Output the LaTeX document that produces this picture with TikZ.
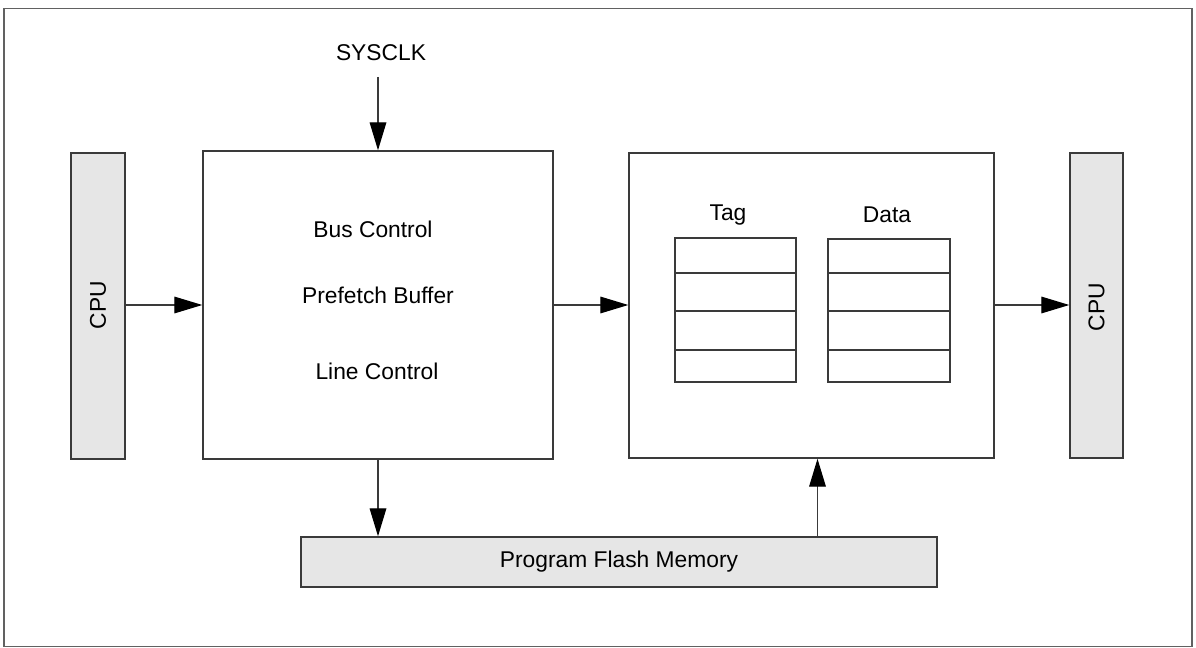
\documentclass[tikz,border=0pt]{standalone}
\usepackage{fontspec}
\setmainfont{Liberation Sans}
\usetikzlibrary{arrows.meta}
\definecolor{edge}{HTML}{3A3A3A}
\definecolor{blockfill}{HTML}{E6E6E6}
\begin{document}
\begin{tikzpicture}[x=0.75pt,y=-0.75pt,
  every node/.style={font=\fontsize{17.1}{20}\selectfont, text=black},
  plainbox/.style={draw=edge, line width=1.1pt, fill=white, inner sep=0pt},
  greybox/.style={draw=edge, line width=1.1pt, fill=blockfill, inner sep=0pt},
  tablebox/.style={draw=edge, line width=1.1pt, inner sep=0pt},
  rowline/.style={draw=edge, line width=1.1pt},
  link/.style={draw=edge, line width=0.9pt, -{Triangle[length=21pt,width=12.5pt,color=black]}},
  lbl/.style={inner sep=0pt, anchor=center}
]
\useasboundingbox (0,0) rectangle (1196,648);
% outer frame
\node[draw=edge!80, line width=1.1pt, minimum width=1188*0.75pt, minimum height=638*0.75pt, inner sep=0pt] (frame) at (598,327.5) {};

% blocks
\node[greybox, minimum width=54*0.75pt, minimum height=306*0.75pt] (cpu1) at (98,306) {};
\node[lbl, rotate=90] (cpu1t) at (98,305) {CPU};
\node[plainbox, minimum width=350*0.75pt, minimum height=308*0.75pt] (main) at (378,305) {};
\node[plainbox, minimum width=365*0.75pt, minimum height=305*0.75pt] (cache) at (811.5,305.5) {};
\node[greybox, minimum width=53*0.75pt, minimum height=305*0.75pt] (cpu2) at (1096.5,305.5) {};
\node[lbl, rotate=90] (cpu2t) at (1096.5,307) {CPU};
\node[greybox, minimum width=636*0.75pt, minimum height=50*0.75pt] (flash) at (619,562) {Program Flash Memory};

% texts in main block
\node[lbl] (sysclk) at (381,53) {SYSCLK};
\node[lbl] (bus) at (373,229) {Bus Control};
\node[lbl] (pref) at (378,295) {Prefetch Buffer};
\node[lbl] (linec) at (377,371) {Line Control};

% tag and data tables
\node[lbl] (tagl) at (728,215) {Tag};
\node[lbl] (datal) at (887,215) {Data};
\node[tablebox, minimum width=121*0.75pt, minimum height=144*0.75pt] (tag) at (735.5,310) {};
\node[tablebox, minimum width=122*0.75pt, minimum height=143*0.75pt] (data) at (889,310.5) {};
\foreach \yy in {273,311,350}{
  \draw[rowline] (tag.west |- 0,\yy) -- (tag.east |- 0,\yy);
  \draw[rowline] (data.west |- 0,\yy) -- (data.east |- 0,\yy);
}

% connectors
\coordinate (clkstart) at (378,77);
\draw[link] (clkstart) -- (clkstart |- main.north);
\draw[link] (cpu1.east |- 0,305) -- (main.west |- 0,305);
\draw[link] (main.east |- 0,305) -- (cache.west |- 0,305);
\draw[link] (cache.east |- 0,305) -- (cpu2.west |- 0,305);
\draw[link] (main.south -| 378,0) -- (flash.north -| 378,0);
\draw[link] (flash.north -| 817.5,0) -- (cache.south -| 817.5,0);
\end{tikzpicture}
\end{document}
